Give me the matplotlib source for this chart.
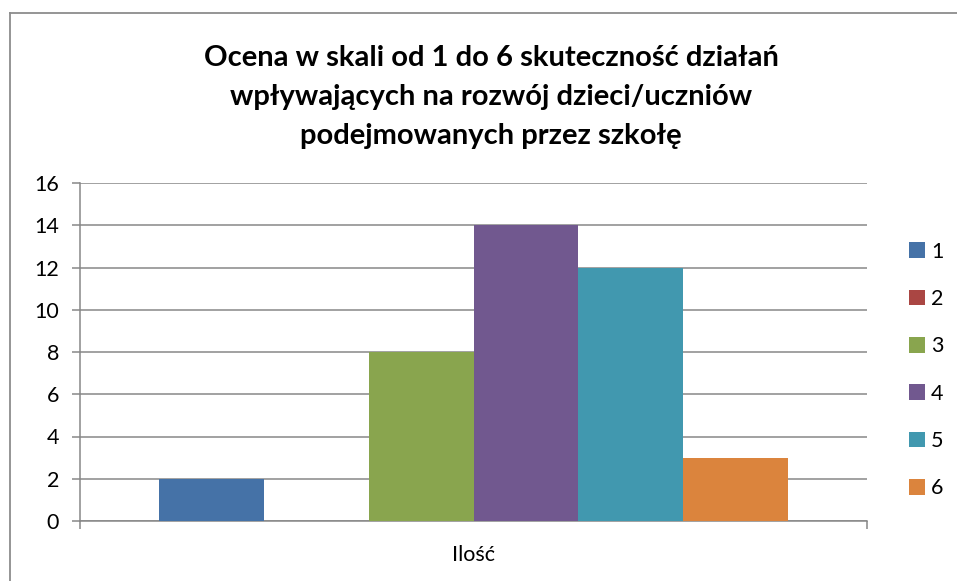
import matplotlib
matplotlib.use("Agg")
import matplotlib.pyplot as plt
from matplotlib.lines import Line2D

plt.rcParams['font.family'] = ['Lato', 'DejaVu Sans']

# dane
tytul = "Ocena w skali od 1 do 6 skuteczność działań\nwpływających na rozwój dzieci/uczniów\npodejmowanych przez szkołę"
kategoria = "Ilość"
serie = ["1", "2", "3", "4", "5", "6"]
wartosci = [2, 0, 8, 14, 12, 3]
kolory = ["#4572A7", "#AA4643", "#89A54E", "#71588F", "#4198AF", "#DB843D"]
yticki = [0, 2, 4, 6, 8, 10, 12, 14, 16]

W, H = 957, 581
fig = plt.figure(figsize=(W / 100, H / 100), dpi=100)

# ramka wykresu (tylko gorna i lewa krawedz widoczna)
fig.add_artist(Line2D([10 / W, 1.0], [1 - 13 / H, 1 - 13 / H], transform=fig.transFigure, color="#8c8c8c", lw=1.3))
fig.add_artist(Line2D([10 / W, 10 / W], [0.0, 1 - 13 / H], transform=fig.transFigure, color="#8c8c8c", lw=1.3))

ax = fig.add_axes([80 / W, (H - 521) / H, (867 - 80) / W, (521 - 183) / H])

# szerokosc slupka - przerwa 150%
n = len(serie)
w = 1 / (n + 1.5)
start = -0.5 + 0.75 * w
for i in range(n):
    ax.bar(start + i * w, wartosci[i], width=w, align='edge', color=kolory[i], label=serie[i], zorder=3)

ax.set_xlim(-0.5, 0.5)
ax.set_ylim(0, 16)
ax.set_yticks(yticki)
ax.yaxis.grid(True, color="#878787", lw=1.1, zorder=0)
ax.set_axisbelow(True)

ax.set_xticks([0])
ax.set_xticklabels([kategoria])
ax.set_xticks([-0.5, 0.5], minor=True)
ax.tick_params(axis='x', which='major', length=0, pad=17, labelsize=15.5)
ax.tick_params(axis='x', which='minor', length=6, width=1.1, color="#878787")
ax.tick_params(axis='y', length=6, width=1.1, color="#878787", pad=9, labelsize=15.5)

for s in ['top', 'right']:
    ax.spines[s].set_visible(False)
for s in ['left', 'bottom']:
    ax.spines[s].set_color("#878787")
    ax.spines[s].set_linewidth(1.1)

ax.legend(loc='center left', bbox_to_anchor=(900 / W, 1 - 370 / H), bbox_transform=fig.transFigure,
          frameon=False, fontsize=15.5, handlelength=0.75, handleheight=0.75, handletextpad=0.3,
          labelspacing=1.27, borderaxespad=0)

fig.text(491 / W, 1 - 97 / H, tytul, ha='center', va='center', fontsize=21, fontweight='bold',
         linespacing=1.62)

fig.savefig("out.png", dpi=100)
